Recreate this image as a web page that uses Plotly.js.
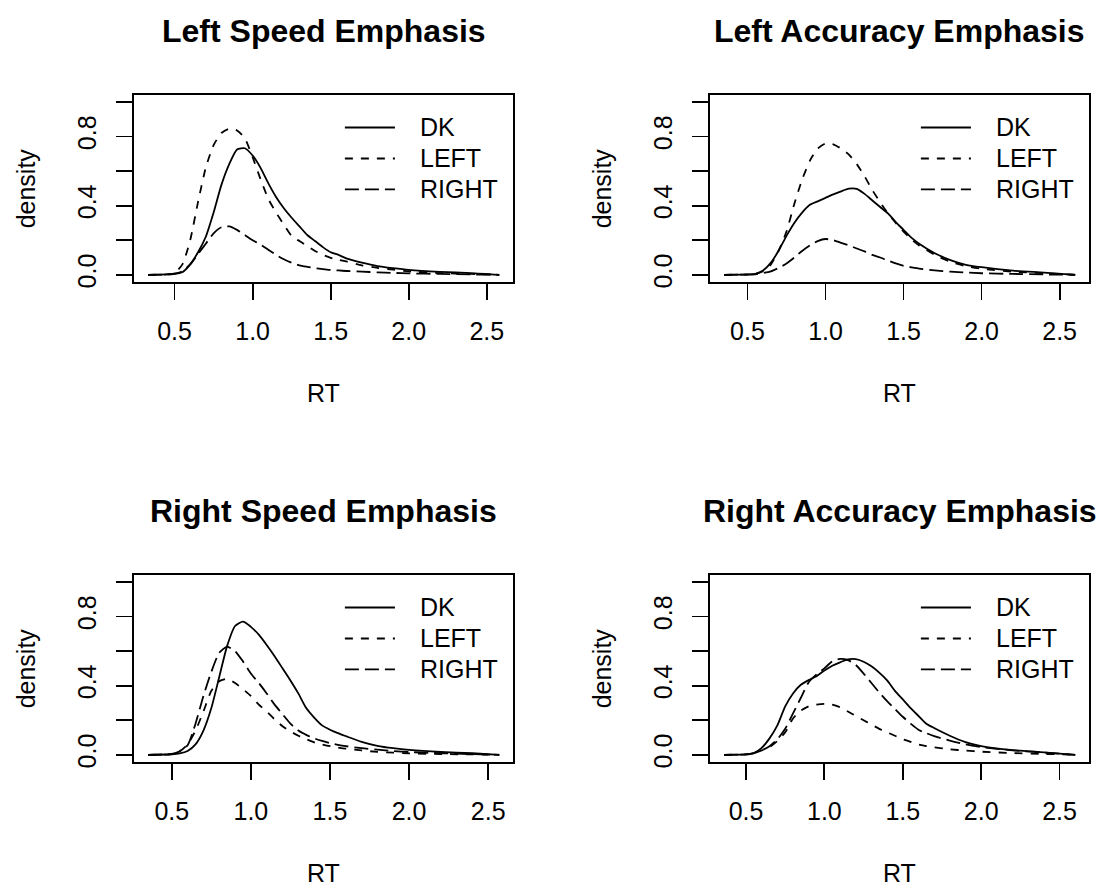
<!DOCTYPE html>
<html>
<head>
<meta charset="utf-8">
<script src="https://cdn.plot.ly/plotly-3.0.1.min.js"></script>
<style>
  html, body { margin: 0; padding: 0; background: #ffffff; }
  #chart { width: 1104px; height: 889px; }
</style>
</head>
<body>
<div id="chart"></div>
<script>
// Response-time densities for each condition, one panel per stimulus / emphasis.
const seriesNames = ["DK", "LEFT", "RIGHT"];
const panelTitles = ["Left Speed Emphasis", "Left Accuracy Emphasis",
                     "Right Speed Emphasis", "Right Accuracy Emphasis"];
const xTickVals = [0.5, 1.0, 1.5, 2.0, 2.5];
const xTickText = ["0.5", "1.0", "1.5", "2.0", "2.5"];
const yTickVals = [0, 0.2, 0.4, 0.6, 0.8, 1.0];
const yTickText = ["0.0", "", "0.4", "", "0.8", ""];
const yLimits = [0, 1];

// Left Speed Emphasis
const rtLeftSpeed = [0.33,0.45,0.5,0.55,0.6,0.65,0.7,0.75,0.8,0.85,0.9,0.95,1.0,1.05,1.1,1.15,1.2,1.25,1.3,1.35,1.4,1.45,1.5,1.55,1.6,1.7,1.8,1.9,2.0,2.2,2.4,2.58];
const dkLeftSpeed = [0,0.002,0.006,0.015,0.06,0.13,0.22,0.36,0.52,0.64,0.725,0.732,0.69,0.62,0.53,0.45,0.385,0.33,0.28,0.23,0.195,0.16,0.13,0.115,0.095,0.07,0.05,0.038,0.028,0.017,0.01,0];
const leftLeftSpeed = [0,0.002,0.01,0.06,0.2,0.42,0.62,0.75,0.82,0.845,0.835,0.79,0.68,0.555,0.44,0.36,0.29,0.225,0.195,0.167,0.138,0.115,0.098,0.087,0.077,0.055,0.04,0.03,0.02,0.01,0.005,0];
const rightLeftSpeed = [0,0.002,0.006,0.02,0.06,0.12,0.18,0.24,0.275,0.28,0.26,0.23,0.2,0.175,0.145,0.115,0.09,0.07,0.055,0.046,0.038,0.033,0.028,0.025,0.022,0.018,0.014,0.011,0.008,0.005,0.002,0];

// Left Accuracy Emphasis
const rtLeftAcc = [0.35,0.5,0.55,0.6,0.65,0.7,0.75,0.8,0.85,0.9,0.95,1.0,1.05,1.1,1.15,1.2,1.25,1.3,1.35,1.4,1.45,1.5,1.55,1.6,1.7,1.8,1.9,2.0,2.2,2.4,2.6];
const dkLeftAcc = [0,0.002,0.006,0.025,0.07,0.14,0.225,0.3,0.36,0.405,0.425,0.445,0.465,0.483,0.498,0.497,0.468,0.43,0.392,0.355,0.305,0.26,0.215,0.18,0.125,0.085,0.058,0.044,0.024,0.013,0];
const leftLeftAcc = [0,0.001,0.004,0.02,0.06,0.14,0.25,0.41,0.55,0.66,0.73,0.76,0.755,0.73,0.695,0.64,0.57,0.49,0.42,0.355,0.3,0.25,0.205,0.17,0.115,0.075,0.05,0.035,0.018,0.009,0];
const rightLeftAcc = [0,0.001,0.003,0.01,0.02,0.04,0.065,0.1,0.138,0.17,0.195,0.207,0.2,0.185,0.17,0.152,0.135,0.115,0.1,0.082,0.066,0.052,0.043,0.035,0.025,0.018,0.013,0.009,0.005,0.002,0];

// Right Speed Emphasis
const rtRightSpeed = [0.35,0.5,0.55,0.6,0.65,0.7,0.75,0.8,0.85,0.9,0.95,1.0,1.05,1.1,1.15,1.2,1.25,1.3,1.35,1.4,1.45,1.5,1.55,1.6,1.7,1.8,1.9,2.0,2.2,2.4,2.57];
const dkRightSpeed = [0,0.003,0.008,0.022,0.06,0.14,0.27,0.45,0.63,0.745,0.77,0.74,0.695,0.635,0.57,0.5,0.43,0.355,0.27,0.215,0.17,0.145,0.125,0.108,0.075,0.052,0.038,0.028,0.016,0.009,0];
const leftRightSpeed = [0,0.004,0.02,0.06,0.14,0.25,0.37,0.425,0.44,0.415,0.38,0.34,0.29,0.25,0.205,0.165,0.135,0.11,0.09,0.072,0.06,0.05,0.042,0.035,0.025,0.017,0.012,0.008,0.004,0.002,0];
const rightRightSpeed = [0,0.005,0.02,0.055,0.18,0.34,0.48,0.59,0.625,0.6,0.54,0.47,0.415,0.355,0.29,0.235,0.18,0.14,0.115,0.095,0.08,0.068,0.058,0.05,0.038,0.03,0.022,0.016,0.009,0.004,0];

// Right Accuracy Emphasis
const rtRightAcc = [0.36,0.5,0.55,0.6,0.65,0.7,0.75,0.8,0.85,0.9,0.95,1.0,1.05,1.1,1.15,1.2,1.25,1.3,1.35,1.4,1.45,1.5,1.55,1.6,1.65,1.7,1.8,1.9,2.0,2.2,2.4,2.6];
const dkRightAcc = [0,0.002,0.01,0.04,0.095,0.17,0.28,0.355,0.405,0.432,0.455,0.487,0.515,0.535,0.552,0.553,0.538,0.512,0.475,0.43,0.37,0.32,0.27,0.225,0.18,0.155,0.11,0.073,0.05,0.027,0.014,0];
const leftRightAcc = [0,0.002,0.01,0.025,0.045,0.08,0.13,0.21,0.255,0.28,0.29,0.295,0.29,0.275,0.25,0.225,0.2,0.175,0.15,0.13,0.11,0.09,0.075,0.06,0.05,0.043,0.032,0.024,0.018,0.01,0.005,0];
const rightRightAcc = [0,0.002,0.01,0.025,0.05,0.09,0.15,0.24,0.33,0.42,0.465,0.5,0.54,0.555,0.548,0.52,0.47,0.415,0.36,0.31,0.265,0.22,0.18,0.145,0.125,0.108,0.082,0.06,0.045,0.026,0.013,0];

const panels = [
  { x: rtLeftSpeed,  ys: [dkLeftSpeed,  leftLeftSpeed,  rightLeftSpeed]  },
  { x: rtLeftAcc,    ys: [dkLeftAcc,    leftLeftAcc,    rightLeftAcc]    },
  { x: rtRightSpeed, ys: [dkRightSpeed, leftRightSpeed, rightRightSpeed] },
  { x: rtRightAcc,   ys: [dkRightAcc,   leftRightAcc,   rightRightAcc]   }
];

// ---- styling ----
const FONT = "Liberation Sans, Arial, Helvetica, sans-serif";
const FS = 25;
const LW = 1.8;
const dashes = ["solid", "8px,8px", "14px,6px"];
const W = 1104, H = 889;
// plot boxes in pixels: [left, right, top, bottom]
const boxes = [
  [134, 513.3, 95, 281.7], [710, 1089.3, 95, 281.7],
  [134, 513.3, 575, 761.7], [710, 1089.3, 575, 761.7]
];

function padRange(lo, hi) {
  const w = hi - lo;
  return [lo - 0.04 * w, hi + 0.04 * w];
}

const data = [];
const shapes = [];
const annotations = [];
const layout = {
  width: W, height: H,
  margin: { l: 0, r: 0, t: 0, b: 0 },
  paper_bgcolor: "#ffffff",
  plot_bgcolor: "#ffffff",
  showlegend: false,
  font: { family: FONT, size: FS, color: "#000000" }
};

panels.forEach((p, i) => {
  const n = i + 1;
  const xa = n === 1 ? "x" : "x" + n;
  const ya = n === 1 ? "y" : "y" + n;
  const xKey = n === 1 ? "xaxis" : "xaxis" + n;
  const yKey = n === 1 ? "yaxis" : "yaxis" + n;
  const b = boxes[i];

  p.ys.forEach((y, k) => {
    data.push({
      type: "scatter", mode: "lines",
      x: p.x, y: y, name: seriesNames[k],
      xaxis: xa, yaxis: ya,
      line: { color: "#000000", width: LW, dash: dashes[k], shape: "spline", smoothing: 0.6 },
      hoverinfo: "skip"
    });
  });

  const xr = padRange(Math.min(...p.x), Math.max(...p.x));
  const yr = padRange(yLimits[0], yLimits[1]);

  layout[xKey] = {
    domain: [b[0] / W, b[1] / W],
    anchor: ya,
    range: xr,
    tickmode: "array", tickvals: xTickVals, ticktext: xTickText,
    ticks: "outside", ticklen: 16, tickwidth: LW, tickcolor: "#000000",
    ticklabelstandoff: 10,
    showline: true, mirror: true, linecolor: "#000000", linewidth: LW,
    showgrid: false, zeroline: false,
    tickfont: { family: FONT, size: FS, color: "#000000" }
  };
  layout[yKey] = {
    domain: [1 - b[3] / H, 1 - b[2] / H],
    anchor: xa,
    range: yr,
    tickmode: "array", tickvals: yTickVals, ticktext: yTickText,
    tickangle: -90,
    ticks: "outside", ticklen: 16, tickwidth: LW, tickcolor: "#000000",
    ticklabelstandoff: 10,
    showline: true, mirror: true, linecolor: "#000000", linewidth: LW,
    showgrid: false, zeroline: false,
    tickfont: { family: FONT, size: FS, color: "#000000" }
  };

  const cx = (b[0] + b[1]) / 2;
  // panel title
  annotations.push({
    xref: "paper", yref: "paper",
    x: cx / W, y: 1 - (b[2] - 64) / H,
    xanchor: "center", yanchor: "middle",
    text: "<b>" + panelTitles[i] + "</b>", showarrow: false,
    font: { family: FONT, size: 32, color: "#000000" }
  });
  // axis titles
  annotations.push({
    xref: "paper", yref: "paper",
    x: cx / W, y: 1 - (b[3] + 111) / H,
    xanchor: "center", yanchor: "middle",
    text: "RT", showarrow: false,
    font: { family: FONT, size: FS, color: "#000000" }
  });
  annotations.push({
    xref: "paper", yref: "paper",
    x: (b[0] - 108) / W, y: 1 - ((b[2] + b[3]) / 2) / H,
    xanchor: "center", yanchor: "middle", textangle: -90,
    text: "density", showarrow: false,
    font: { family: FONT, size: FS, color: "#000000" }
  });

  // key in the upper right corner of the panel
  const rowY = [0.826, 0.660, 0.494];
  seriesNames.forEach((name, k) => {
    shapes.push({
      type: "line", xref: xa + " domain", yref: ya + " domain",
      x0: 0.556, x1: 0.688, y0: rowY[k], y1: rowY[k],
      line: { color: "#000000", width: LW, dash: dashes[k] }
    });
    annotations.push({
      xref: xa + " domain", yref: ya + " domain",
      x: 0.7495, y: rowY[k], xanchor: "left", yanchor: "middle",
      text: name, showarrow: false,
      font: { family: FONT, size: FS, color: "#000000" }
    });
  });
});

layout.shapes = shapes;
layout.annotations = annotations;

Plotly.newPlot("chart", data, layout, { displayModeBar: false, staticPlot: true });
</script>
</body>
</html>
